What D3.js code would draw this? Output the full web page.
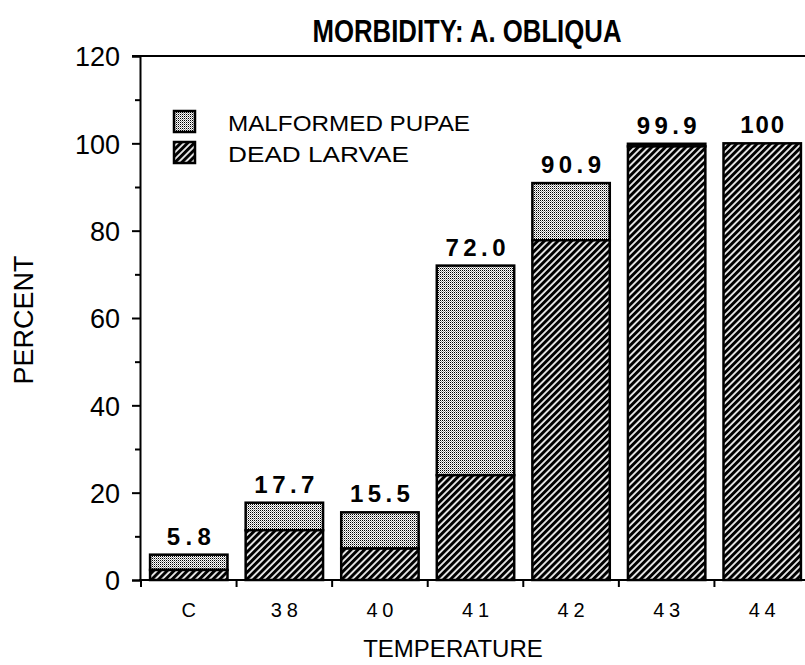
<!DOCTYPE html>
<html>
<head>
<meta charset="utf-8">
<script src="https://cdn.jsdelivr.net/npm/d3@7"></script>
<style>
  body { margin: 0; background: #fff; }
  text { font-family: "Liberation Sans", Arial, sans-serif; fill: #000; }
</style>
</head>
<body>
<div id="chart"></div>
<script>

// data
var categories = ["C", "38", "40", "41", "42", "43", "44"];
var totalLabels = ["5.8", "17.7", "15.5", "72.0", "90.9", "99.9", "100"];
var totals = [5.8, 17.7, 15.5, 72.0, 90.9, 99.9, 100];
var deadLarvae = [2.3, 11.4, 7.2, 24.0, 77.8, 99.3, 100];
var yMajorTicks = [0, 20, 40, 60, 80, 100, 120];
var yMinorTicks = [10, 30, 50, 70, 90, 110];

var width = 805, height = 665;
var plotLeft = 140, plotRight = 810, plotTop = 56, plotBottom = 580;

var svg = d3.select("#chart").append("svg")
  .attr("width", width)
  .attr("height", height);

var defs = svg.append("defs");

// diagonal hatch: black with thin white lines
var hatch = defs.append("pattern")
  .attr("id", "hatch")
  .attr("patternUnits", "userSpaceOnUse")
  .attr("width", 4.8)
  .attr("height", 4.8)
  .attr("patternTransform", "rotate(45)");
hatch.append("rect").attr("width", 4.8).attr("height", 4.8).attr("fill", "#000");
hatch.append("line")
  .attr("x1", 1).attr("y1", 0).attr("x2", 1).attr("y2", 4.8)
  .attr("stroke", "#fff").attr("stroke-width", 1.7);

// stipple: fine dots, light grey overall
var dots = defs.append("pattern")
  .attr("id", "dots")
  .attr("patternUnits", "userSpaceOnUse")
  .attr("width", 2)
  .attr("height", 2);
dots.append("rect").attr("width", 2).attr("height", 2).attr("fill", "#fff");
dots.append("rect").attr("width", 1).attr("height", 1).attr("fill", "#000")
  .attr("shape-rendering", "crispEdges");
dots.append("rect").attr("x", 1).attr("y", 1).attr("width", 1).attr("height", 1)
  .attr("fill", "#999").attr("shape-rendering", "crispEdges");

var y = d3.scaleLinear().domain([0, 120]).range([plotBottom, plotTop]);
var pad = 0.19;
var x = d3.scaleBand().domain(categories).range([plotLeft + 1, plotRight])
  .paddingInner(pad).paddingOuter(pad / 2);

// bars
var bars = svg.append("g");
categories.forEach(function(c, i) {
  var x0 = x(c);
  // malformed pupae (from dead top to total)
  bars.append("rect")
    .attr("x", x0)
    .attr("y", y(totals[i]))
    .attr("width", x.bandwidth())
    .attr("height", y(deadLarvae[i]) - y(totals[i]))
    .attr("fill", "url(#dots)")
    .attr("stroke", "#000")
    .attr("stroke-width", 2.5);
  bars.append("rect")
    .attr("x", x0)
    .attr("y", y(deadLarvae[i]))
    .attr("width", x.bandwidth())
    .attr("height", y(0) - y(deadLarvae[i]))
    .attr("fill", "url(#hatch)")
    .attr("stroke", "#000")
    .attr("stroke-width", 2.5);
});

// total labels above bars
svg.append("g").selectAll("text")
  .data(categories)
  .enter().append("text")
  .attr("x", function(d) { return x(d) + x.bandwidth() / 2; })
  .attr("y", function(d, i) { return y(totals[i]) - 10; })
  .attr("text-anchor", "middle")
  .attr("font-family", "DejaVu Sans Mono, monospace")
  .attr("font-size", 24)
  .attr("font-weight", "bold")
  .attr("textLength", function(d, i) { return totalLabels[i].length * 16 - 4; })
  .attr("lengthAdjust", "spacing")
  .text(function(d, i) { return totalLabels[i]; });

// y axis
var yAxis = svg.append("g")
  .attr("transform", "translate(" + plotLeft + ",0)")
  .call(d3.axisLeft(y).tickValues(yMajorTicks).tickSize(8).tickPadding(12));
yAxis.select(".domain").attr("stroke-width", 2);
yAxis.selectAll(".tick line").attr("stroke-width", 2);
yAxis.selectAll("text")
  .attr("font-size", 27)
  .attr("font-family", "Liberation Sans, Arial, sans-serif")
  .attr("dy", "0.36em");

var yMinor = svg.append("g")
  .attr("transform", "translate(" + plotLeft + ",0)")
  .call(d3.axisLeft(y).tickValues(yMinorTicks).tickSize(5).tickFormat(""));
yMinor.select(".domain").remove();
yMinor.selectAll(".tick line").attr("stroke-width", 2);

// top frame line
svg.append("line")
  .attr("x1", plotLeft - 8).attr("x2", width)
  .attr("y1", y(120)).attr("y2", y(120))
  .attr("stroke", "#000").attr("stroke-width", 2);

// x axis: labels centred in bands, ticks at band boundaries
var xAxis = svg.append("g")
  .attr("transform", "translate(0," + plotBottom + ")")
  .call(d3.axisBottom(x).tickSize(0).tickPadding(37));
xAxis.select(".domain").remove();
xAxis.selectAll("text")
  .attr("font-size", 20)
  .attr("font-family", "Liberation Sans, Arial, sans-serif")
  .attr("dy", 0)
  .attr("textLength", function(d) { return d.length > 1 ? 27 : 15; })
  .attr("lengthAdjust", "spacing");

svg.append("line")
  .attr("x1", plotLeft - 1).attr("x2", width)
  .attr("y1", plotBottom).attr("y2", plotBottom)
  .attr("stroke", "#000").attr("stroke-width", 2);

var bounds = categories.map(function(c) { return x(c) - x.step() * pad / 2; });
svg.append("g").selectAll("line")
  .data(bounds)
  .enter().append("line")
  .attr("x1", function(d) { return d; })
  .attr("x2", function(d) { return d; })
  .attr("y1", plotBottom)
  .attr("y2", plotBottom + 7)
  .attr("stroke", "#000")
  .attr("stroke-width", 2);

// legend
var legendItems = [
  { label: "MALFORMED PUPAE", fill: "url(#dots)", len: 242 },
  { label: "DEAD LARVAE", fill: "url(#hatch)", len: 181 }
];
var legend = svg.append("g");
legendItems.forEach(function(d, i) {
  legend.append("rect")
    .attr("x", 174).attr("y", 111 + i * 31)
    .attr("width", 21).attr("height", 21)
    .attr("fill", d.fill)
    .attr("stroke", "#000").attr("stroke-width", 2.5);
  legend.append("text")
    .attr("x", 228).attr("y", 131 + i * 31)
    .attr("font-size", 22)
    .attr("textLength", d.len)
    .attr("lengthAdjust", "spacingAndGlyphs")
    .text(d.label);
});

// titles
svg.append("text")
  .attr("x", 467).attr("y", 42)
  .attr("text-anchor", "middle")
  .attr("font-size", 32)
  .attr("font-weight", "bold")
  .attr("textLength", 309)
  .attr("lengthAdjust", "spacingAndGlyphs")
  .text("MORBIDITY:  A.  OBLIQUA");

svg.append("text")
  .attr("x", 453).attr("y", 657)
  .attr("text-anchor", "middle")
  .attr("font-size", 24)
  .text("TEMPERATURE");

svg.append("text")
  .attr("transform", "translate(33,320) rotate(-90)")
  .attr("text-anchor", "middle")
  .attr("font-size", 27)
  .text("PERCENT");

</script>
</body>
</html>
